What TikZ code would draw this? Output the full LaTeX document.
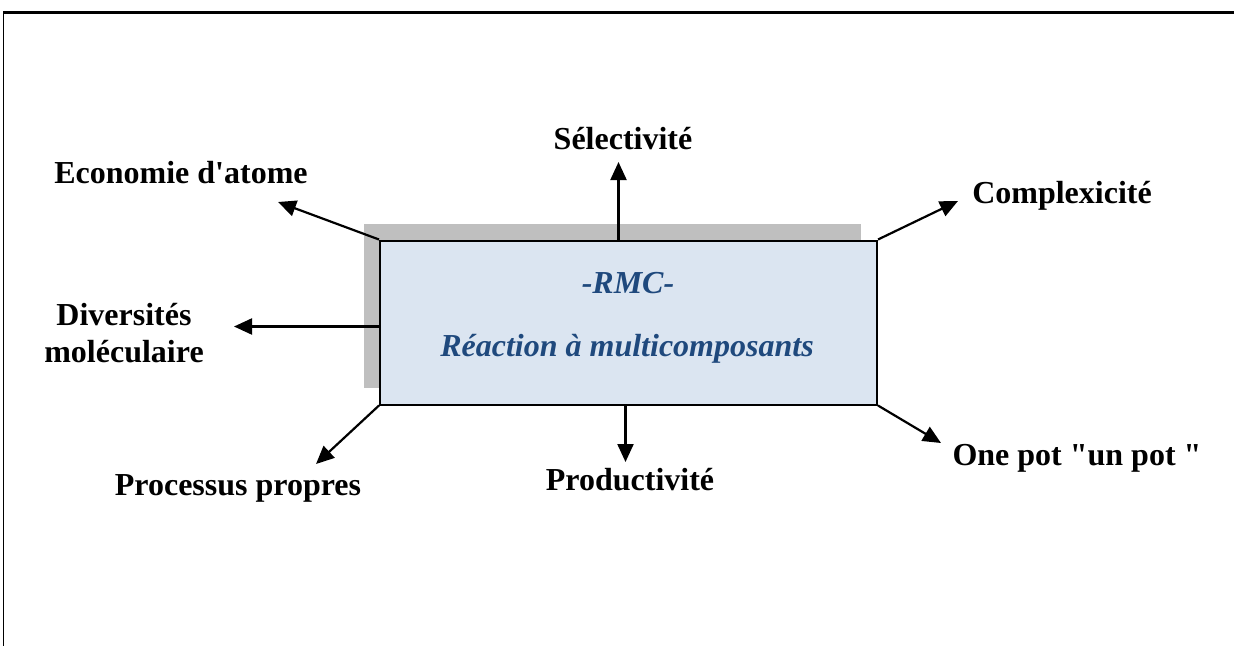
\documentclass[tikz,border=0pt]{standalone}
\usepackage{fontspec}
\setmainfont{Liberation Serif}
\usetikzlibrary{arrows.meta}
\definecolor{rmcblue}{HTML}{1F497D}
\definecolor{rmcfill}{HTML}{DBE5F1}
\definecolor{rmcgray}{HTML}{BFBFBF}

\begin{document}
\begin{tikzpicture}
[
    x=1pt, y=-1pt,
    lbl/.style={font=\fontsize{32}{38}\selectfont\bfseries, inner sep=0pt, anchor=base},
    rmctext/.style={lbl, font=\fontsize{32}{38}\selectfont\bfseries\itshape, text=rmcblue},
    link/.style={line width=2.2pt, -{Triangle[length=18pt,width=16pt]}},
    rmcbox/.style={draw, line width=2pt, fill=rmcfill, minimum width=497pt, minimum height=164pt, inner sep=0pt},
    shadowbox/.style={fill=rmcgray, minimum width=497pt, minimum height=164pt, inner sep=0pt},
]
\useasboundingbox (0,0) rectangle (1234,646);
% frame
\draw[line width=2.5pt] (3,12.5) -- (1234,12.5);
\draw[line width=1.5pt] (3.5,12) -- (3.5,646);

% central box
\node[shadowbox] (shd) at (612.5,306) {};
\node[rmcbox] (rmc) at (628.5,322.5) {};
\node[rmctext] (rmcname) at (628,293) {-RMC-};
\node[rmctext] (rmcfull) at (627,356) {Réaction à multicomposants};

% labels
\node[lbl] (sel) at (623,149) {Sélectivité};
\node[lbl] (eco) at (181,183) {Economie d\textquotesingle atome};
\node[lbl] (comp) at (1062,203) {Complexicité};
\node[lbl] (div) at (124,325) {Diversités};
\node[lbl] (mol) at (124,362) {moléculaire};
\node[lbl] (proc) at (238,495) {Processus propres};
\node[lbl] (prod) at (630,490) {Productivité};
\node[lbl] (onepot) at (1077,465) {One pot \textquotedbl un pot \textquotedbl};

% arrow tips
\coordinate (seltip) at (618.5,162);
\coordinate (ecotip) at (278,202);
\coordinate (comptip) at (958,201);
\coordinate (divtip) at (234,326.5);
\coordinate (proctip) at (316,464);
\coordinate (prodtip) at (625.5,462);
\coordinate (onetip) at (941,443);

\draw[link] ([xshift=-10pt]rmc.north) -- (seltip);
\draw[link] (rmc.north west) -- (ecotip);
\draw[link] (rmc.north east) -- (comptip);
\draw[link] ([yshift=-4pt]rmc.west) -- (divtip);
\draw[link] (rmc.south west) -- (proctip);
\draw[link] ([xshift=-3pt]rmc.south) -- (prodtip);
\draw[link] (rmc.south east) -- (onetip);
\end{tikzpicture}
\end{document}
